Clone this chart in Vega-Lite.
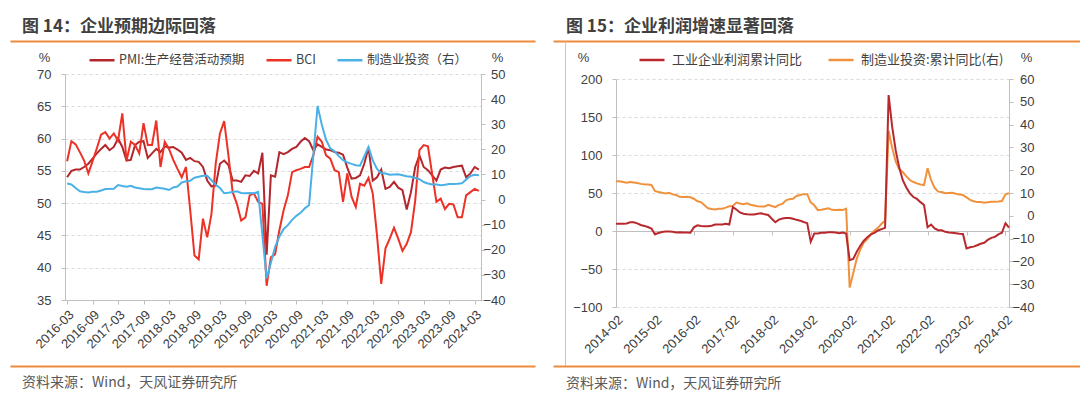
{
  "$schema": "https://vega.github.io/schema/vega-lite/v6.json",
  "background": "white",
  "padding": {"left": 22, "top": 11, "right": 45, "bottom": 0},
  "bounds": "flush",
  "columns": 2,
  "spacing": {"row": 33, "column": 135},
  "resolve": {"scale": {"color": "independent"}, "legend": {"color": "independent"}},
  "config": {
    "view": {"stroke": null},
    "axis": {"labelFont": "Liberation Sans", "labelFontSize": 13, "labelColor": "#404040", "domainColor": "#bfbfbf", "tickColor": "#bfbfbf", "tickSize": 4, "gridColor": "#d9d9d9", "gridDash": [3, 3], "titleFont": "Liberation Sans", "titleFontSize": 13, "titleFontWeight": "normal", "titleColor": "#404040"},
    "legend": {"labelFont": "Noto Sans CJK SC", "labelFontSize": 13, "labelColor": "#404040", "symbolType": "stroke", "symbolSize": 625, "symbolStrokeWidth": 2.5}
  },
  "datasets": {
    "left": [
      {"d": "2016-03", "pmi": 54.0, "bci": 56.5, "inv": 6.4},
      {"d": "2016-04", "pmi": 55.0, "bci": 59.6, "inv": 6.0},
      {"d": "2016-05", "pmi": 55.2, "bci": 59.1, "inv": 4.6},
      {"d": "2016-06", "pmi": 55.2, "bci": 57.9, "inv": 3.3},
      {"d": "2016-07", "pmi": 55.6, "bci": 56.6, "inv": 3.0},
      {"d": "2016-08", "pmi": 56.1, "bci": 54.6, "inv": 2.8},
      {"d": "2016-09", "pmi": 56.9, "bci": 56.5, "inv": 3.1},
      {"d": "2016-10", "pmi": 57.7, "bci": 58.5, "inv": 3.1},
      {"d": "2016-11", "pmi": 58.4, "bci": 60.6, "inv": 3.6},
      {"d": "2016-12", "pmi": 59.0, "bci": 61.0, "inv": 4.2},
      {"d": "2017-01", "pmi": 58.2, "bci": 60.0, "inv": null},
      {"d": "2017-02", "pmi": 58.7, "bci": 60.8, "inv": 4.3},
      {"d": "2017-03", "pmi": 60.0, "bci": 59.7, "inv": 5.8},
      {"d": "2017-04", "pmi": 58.7, "bci": 63.9, "inv": 5.4},
      {"d": "2017-05", "pmi": 56.6, "bci": 56.6, "inv": 5.1},
      {"d": "2017-06", "pmi": 56.7, "bci": 59.5, "inv": 5.5},
      {"d": "2017-07", "pmi": 59.0, "bci": 59.0, "inv": 4.8},
      {"d": "2017-08", "pmi": 59.5, "bci": 57.7, "inv": 4.5},
      {"d": "2017-09", "pmi": 59.6, "bci": 62.4, "inv": 4.2},
      {"d": "2017-10", "pmi": 57.0, "bci": 59.0, "inv": 4.1},
      {"d": "2017-11", "pmi": 57.7, "bci": 59.0, "inv": 4.1},
      {"d": "2017-12", "pmi": 58.4, "bci": 62.8, "inv": 4.8},
      {"d": "2018-01", "pmi": 57.9, "bci": 55.6, "inv": null},
      {"d": "2018-02", "pmi": 58.8, "bci": 59.5, "inv": 4.3},
      {"d": "2018-03", "pmi": 58.6, "bci": 58.4, "inv": 3.8},
      {"d": "2018-04", "pmi": 58.7, "bci": 56.7, "inv": 4.8},
      {"d": "2018-05", "pmi": 58.3, "bci": 55.3, "inv": 5.2},
      {"d": "2018-06", "pmi": 57.8, "bci": 54.0, "inv": 6.8},
      {"d": "2018-07", "pmi": 56.7, "bci": 55.6, "inv": 7.3},
      {"d": "2018-08", "pmi": 57.0, "bci": 48.9, "inv": 7.5},
      {"d": "2018-09", "pmi": 56.5, "bci": 41.9, "inv": 8.7},
      {"d": "2018-10", "pmi": 56.4, "bci": 41.3, "inv": 9.1},
      {"d": "2018-11", "pmi": 55.6, "bci": 47.6, "inv": 9.5},
      {"d": "2018-12", "pmi": 53.5, "bci": 44.7, "inv": 9.5},
      {"d": "2019-01", "pmi": 52.6, "bci": 48.3, "inv": null},
      {"d": "2019-02", "pmi": 52.7, "bci": 56.1, "inv": 5.9},
      {"d": "2019-03", "pmi": 56.1, "bci": 60.8, "inv": 4.6},
      {"d": "2019-04", "pmi": 56.6, "bci": 62.7, "inv": 2.5},
      {"d": "2019-05", "pmi": 55.9, "bci": 57.4, "inv": 2.7},
      {"d": "2019-06", "pmi": 53.5, "bci": 51.7, "inv": 3.0},
      {"d": "2019-07", "pmi": 53.5, "bci": 49.9, "inv": 3.3},
      {"d": "2019-08", "pmi": 53.3, "bci": 47.3, "inv": 2.6},
      {"d": "2019-09", "pmi": 54.3, "bci": 47.8, "inv": 2.5},
      {"d": "2019-10", "pmi": 54.2, "bci": 51.2, "inv": 2.6},
      {"d": "2019-11", "pmi": 55.0, "bci": 51.5, "inv": 2.5},
      {"d": "2019-12", "pmi": 54.6, "bci": 50.2, "inv": 3.1},
      {"d": "2020-01", "pmi": 57.8, "bci": 49.9, "inv": null},
      {"d": "2020-02", "pmi": 42.0, "bci": 37.2, "inv": -31.5},
      {"d": "2020-03", "pmi": 54.3, "bci": 41.6, "inv": -25.2},
      {"d": "2020-04", "pmi": 54.1, "bci": 42.1, "inv": -18.8},
      {"d": "2020-05", "pmi": 57.9, "bci": 45.8, "inv": -14.8},
      {"d": "2020-06", "pmi": 57.6, "bci": 48.9, "inv": -11.7},
      {"d": "2020-07", "pmi": 57.9, "bci": 51.2, "inv": -10.2},
      {"d": "2020-08", "pmi": 58.4, "bci": 54.8, "inv": -8.1},
      {"d": "2020-09", "pmi": 58.7, "bci": 55.1, "inv": -6.5},
      {"d": "2020-10", "pmi": 59.5, "bci": 55.3, "inv": -5.3},
      {"d": "2020-11", "pmi": 60.1, "bci": 55.6, "inv": -3.5},
      {"d": "2020-12", "pmi": 59.6, "bci": 55.6, "inv": -2.2},
      {"d": "2021-01", "pmi": 58.2, "bci": 57.4, "inv": null},
      {"d": "2021-02", "pmi": 59.1, "bci": 60.3, "inv": 37.3},
      {"d": "2021-03", "pmi": 58.7, "bci": 59.5, "inv": 29.8},
      {"d": "2021-04", "pmi": 58.3, "bci": 57.4, "inv": 23.8},
      {"d": "2021-05", "pmi": 58.2, "bci": 56.9, "inv": 20.4},
      {"d": "2021-06", "pmi": 57.9, "bci": 55.1, "inv": 19.2},
      {"d": "2021-07", "pmi": 57.8, "bci": 54.8, "inv": 17.3},
      {"d": "2021-08", "pmi": 57.5, "bci": 50.2, "inv": 15.7},
      {"d": "2021-09", "pmi": 55.5, "bci": 54.6, "inv": 14.8},
      {"d": "2021-10", "pmi": 53.8, "bci": 51.0, "inv": 14.2},
      {"d": "2021-11", "pmi": 53.9, "bci": 49.4, "inv": 13.7},
      {"d": "2021-12", "pmi": 54.3, "bci": 53.0, "inv": 13.5},
      {"d": "2022-01", "pmi": 56.1, "bci": 52.7, "inv": null},
      {"d": "2022-02", "pmi": 58.6, "bci": 53.9, "inv": 20.9},
      {"d": "2022-03", "pmi": 53.5, "bci": 51.5, "inv": 15.6},
      {"d": "2022-04", "pmi": 54.0, "bci": 45.0, "inv": 12.2},
      {"d": "2022-05", "pmi": 55.2, "bci": 37.5, "inv": 10.6},
      {"d": "2022-06", "pmi": 52.2, "bci": 43.0, "inv": 10.4},
      {"d": "2022-07", "pmi": 52.5, "bci": 44.5, "inv": 9.9},
      {"d": "2022-08", "pmi": 53.3, "bci": 46.2, "inv": 10.0},
      {"d": "2022-09", "pmi": 52.4, "bci": 44.5, "inv": 10.1},
      {"d": "2022-10", "pmi": 52.0, "bci": 42.6, "inv": 9.7},
      {"d": "2022-11", "pmi": 49.0, "bci": 43.7, "inv": 9.3},
      {"d": "2022-12", "pmi": 51.7, "bci": 45.5, "inv": 9.1},
      {"d": "2023-01", "pmi": 55.6, "bci": 50.4, "inv": null},
      {"d": "2023-02", "pmi": 57.4, "bci": 58.2, "inv": 8.1},
      {"d": "2023-03", "pmi": 55.6, "bci": 59.0, "inv": 7.0},
      {"d": "2023-04", "pmi": 55.1, "bci": 58.8, "inv": 6.4},
      {"d": "2023-05", "pmi": 54.3, "bci": 54.5, "inv": 6.0},
      {"d": "2023-06", "pmi": 53.5, "bci": 50.2, "inv": 6.0},
      {"d": "2023-07", "pmi": 55.2, "bci": 50.7, "inv": 5.7},
      {"d": "2023-08", "pmi": 55.5, "bci": 49.1, "inv": 5.9},
      {"d": "2023-09", "pmi": 55.4, "bci": 49.9, "inv": 6.2},
      {"d": "2023-10", "pmi": 55.6, "bci": 49.8, "inv": 6.2},
      {"d": "2023-11", "pmi": 55.7, "bci": 47.8, "inv": 6.3},
      {"d": "2023-12", "pmi": 55.8, "bci": 47.8, "inv": 6.5},
      {"d": "2024-01", "pmi": 54.0, "bci": 51.2, "inv": null},
      {"d": "2024-02", "pmi": 54.6, "bci": 51.7, "inv": 9.4},
      {"d": "2024-03", "pmi": 55.6, "bci": 52.2, "inv": 9.9},
      {"d": "2024-04", "pmi": 55.2, "bci": 51.9, "inv": 9.7}
    ],
    "right": [
      {"d": "2014-02", "profit": 9.4, "inv2": 15.1},
      {"d": "2014-03", "profit": 9.6, "inv2": 15.1},
      {"d": "2014-04", "profit": 9.6, "inv2": 14.8},
      {"d": "2014-05", "profit": 9.8, "inv2": 14.5},
      {"d": "2014-06", "profit": 11.4, "inv2": 14.8},
      {"d": "2014-07", "profit": 11.6, "inv2": 14.6},
      {"d": "2014-08", "profit": 10.0, "inv2": 14.4},
      {"d": "2014-09", "profit": 7.9, "inv2": 14.0},
      {"d": "2014-10", "profit": 6.7, "inv2": 13.8},
      {"d": "2014-11", "profit": 5.3, "inv2": 13.7},
      {"d": "2014-12", "profit": 3.3, "inv2": 13.5},
      {"d": "2015-02", "profit": -4.2, "inv2": 10.9},
      {"d": "2015-03", "profit": -2.7, "inv2": 10.4},
      {"d": "2015-04", "profit": -1.3, "inv2": 10.1},
      {"d": "2015-05", "profit": -0.8, "inv2": 9.8},
      {"d": "2015-06", "profit": -0.7, "inv2": 10.1},
      {"d": "2015-07", "profit": -1.0, "inv2": 9.4},
      {"d": "2015-08", "profit": -1.9, "inv2": 9.1},
      {"d": "2015-09", "profit": -1.7, "inv2": 8.3},
      {"d": "2015-10", "profit": -2.0, "inv2": 8.2},
      {"d": "2015-11", "profit": -1.9, "inv2": 8.3},
      {"d": "2015-12", "profit": -2.3, "inv2": 8.1},
      {"d": "2016-02", "profit": 4.8, "inv2": 7.5},
      {"d": "2016-03", "profit": 7.4, "inv2": 6.4},
      {"d": "2016-04", "profit": 6.5, "inv2": 6.0},
      {"d": "2016-05", "profit": 6.4, "inv2": 4.6},
      {"d": "2016-06", "profit": 6.2, "inv2": 3.3},
      {"d": "2016-07", "profit": 6.9, "inv2": 3.0},
      {"d": "2016-08", "profit": 8.4, "inv2": 2.8},
      {"d": "2016-09", "profit": 8.4, "inv2": 3.1},
      {"d": "2016-10", "profit": 8.6, "inv2": 3.1},
      {"d": "2016-11", "profit": 9.4, "inv2": 3.6},
      {"d": "2016-12", "profit": 8.5, "inv2": 4.2},
      {"d": "2017-02", "profit": 31.5, "inv2": 4.3},
      {"d": "2017-03", "profit": 28.3, "inv2": 5.8},
      {"d": "2017-04", "profit": 24.4, "inv2": 5.4},
      {"d": "2017-05", "profit": 22.7, "inv2": 5.1},
      {"d": "2017-06", "profit": 22.0, "inv2": 5.5},
      {"d": "2017-07", "profit": 21.6, "inv2": 4.8},
      {"d": "2017-08", "profit": 21.6, "inv2": 4.5},
      {"d": "2017-09", "profit": 22.8, "inv2": 4.2},
      {"d": "2017-10", "profit": 23.3, "inv2": 4.1},
      {"d": "2017-11", "profit": 21.9, "inv2": 4.1},
      {"d": "2017-12", "profit": 21.0, "inv2": 4.8},
      {"d": "2018-02", "profit": 16.1, "inv2": 4.3},
      {"d": "2018-03", "profit": 11.6, "inv2": 3.8},
      {"d": "2018-04", "profit": 15.0, "inv2": 4.8},
      {"d": "2018-05", "profit": 16.5, "inv2": 5.2},
      {"d": "2018-06", "profit": 17.2, "inv2": 6.8},
      {"d": "2018-07", "profit": 17.1, "inv2": 7.3},
      {"d": "2018-08", "profit": 16.2, "inv2": 7.5},
      {"d": "2018-09", "profit": 14.7, "inv2": 8.7},
      {"d": "2018-10", "profit": 13.6, "inv2": 9.1},
      {"d": "2018-11", "profit": 11.8, "inv2": 9.5},
      {"d": "2018-12", "profit": 10.3, "inv2": 9.5},
      {"d": "2019-02", "profit": -14.0, "inv2": 5.9},
      {"d": "2019-03", "profit": -3.3, "inv2": 4.6},
      {"d": "2019-04", "profit": -3.4, "inv2": 2.5},
      {"d": "2019-05", "profit": -2.3, "inv2": 2.7},
      {"d": "2019-06", "profit": -2.4, "inv2": 3.0},
      {"d": "2019-07", "profit": -1.7, "inv2": 3.3},
      {"d": "2019-08", "profit": -1.7, "inv2": 2.6},
      {"d": "2019-09", "profit": -2.1, "inv2": 2.5},
      {"d": "2019-10", "profit": -2.9, "inv2": 2.6},
      {"d": "2019-11", "profit": -2.1, "inv2": 2.5},
      {"d": "2019-12", "profit": -3.3, "inv2": 3.1},
      {"d": "2020-02", "profit": -38.3, "inv2": -31.5},
      {"d": "2020-03", "profit": -36.7, "inv2": -25.2},
      {"d": "2020-04", "profit": -27.4, "inv2": -18.8},
      {"d": "2020-05", "profit": -19.3, "inv2": -14.8},
      {"d": "2020-06", "profit": -12.8, "inv2": -11.7},
      {"d": "2020-07", "profit": -8.1, "inv2": -10.2},
      {"d": "2020-08", "profit": -4.4, "inv2": -8.1},
      {"d": "2020-09", "profit": -2.4, "inv2": -6.5},
      {"d": "2020-10", "profit": 0.7, "inv2": -5.3},
      {"d": "2020-11", "profit": 2.4, "inv2": -3.5},
      {"d": "2020-12", "profit": 4.1, "inv2": -2.2},
      {"d": "2021-02", "profit": 178.9, "inv2": 37.3},
      {"d": "2021-03", "profit": 137.3, "inv2": 29.8},
      {"d": "2021-04", "profit": 106.0, "inv2": 23.8},
      {"d": "2021-05", "profit": 83.4, "inv2": 20.4},
      {"d": "2021-06", "profit": 66.9, "inv2": 19.2},
      {"d": "2021-07", "profit": 57.3, "inv2": 17.3},
      {"d": "2021-08", "profit": 49.5, "inv2": 15.7},
      {"d": "2021-09", "profit": 44.7, "inv2": 14.8},
      {"d": "2021-10", "profit": 42.2, "inv2": 14.2},
      {"d": "2021-11", "profit": 38.0, "inv2": 13.7},
      {"d": "2021-12", "profit": 34.3, "inv2": 13.5},
      {"d": "2022-02", "profit": 5.0, "inv2": 20.9},
      {"d": "2022-03", "profit": 8.5, "inv2": 15.6},
      {"d": "2022-04", "profit": 3.5, "inv2": 12.2},
      {"d": "2022-05", "profit": 1.0, "inv2": 10.6},
      {"d": "2022-06", "profit": 1.0, "inv2": 10.4},
      {"d": "2022-07", "profit": -1.1, "inv2": 9.9},
      {"d": "2022-08", "profit": -2.1, "inv2": 10.0},
      {"d": "2022-09", "profit": -2.3, "inv2": 10.1},
      {"d": "2022-10", "profit": -3.0, "inv2": 9.7},
      {"d": "2022-11", "profit": -3.6, "inv2": 9.3},
      {"d": "2022-12", "profit": -4.0, "inv2": 9.1},
      {"d": "2023-02", "profit": -22.9, "inv2": 8.1},
      {"d": "2023-03", "profit": -21.4, "inv2": 7.0},
      {"d": "2023-04", "profit": -20.6, "inv2": 6.4},
      {"d": "2023-05", "profit": -18.8, "inv2": 6.0},
      {"d": "2023-06", "profit": -16.8, "inv2": 6.0},
      {"d": "2023-07", "profit": -15.5, "inv2": 5.7},
      {"d": "2023-08", "profit": -11.7, "inv2": 5.9},
      {"d": "2023-09", "profit": -9.0, "inv2": 6.2},
      {"d": "2023-10", "profit": -7.8, "inv2": 6.2},
      {"d": "2023-11", "profit": -4.4, "inv2": 6.3},
      {"d": "2023-12", "profit": -2.3, "inv2": 6.5},
      {"d": "2024-02", "profit": 10.2, "inv2": 9.4},
      {"d": "2024-03", "profit": 4.3, "inv2": 9.9}
    ]
  },
  "concat": [
    {
      "width": 416, "height": 30,
      "data": {"values": [{"t": "图 14：企业预期边际回落", "p": 0}]},
      "mark": {"type": "text", "align": "left", "baseline": "middle", "dx": 12, "dy": 1, "font": "Noto Sans CJK SC", "fontSize": 17, "fontWeight": "bold", "color": "#404040"},
      "encoding": {
        "text": {"field": "t"},
        "x": {"field": "p", "type": "quantitative", "scale": {"domain": [0, 1], "range": [-55, 470], "nice": false, "zero": false}, "axis": {"orient": "bottom", "domainColor": "#ee8a3c", "domainWidth": 2, "labels": false, "ticks": false, "grid": false, "title": null}}
      }
    },
    {
      "width": 393, "height": 30,
      "data": {"values": [{"t": "图 15：企业利润增速显著回落", "p": 0}]},
      "mark": {"type": "text", "align": "left", "baseline": "middle", "dx": 13, "dy": 1, "font": "Noto Sans CJK SC", "fontSize": 17, "fontWeight": "bold", "color": "#404040"},
      "encoding": {
        "text": {"field": "t"},
        "x": {"field": "p", "type": "quantitative", "scale": {"domain": [0, 1], "range": [-63, 464], "nice": false, "zero": false}, "axis": {"orient": "bottom", "domainColor": "#ee8a3c", "domainWidth": 2, "labels": false, "ticks": false, "grid": false, "title": null}}
      }
    },
    {
      "width": 416, "height": 226,
      "data": {"name": "left"},
      "transform": [{"fold": ["pmi", "bci", "inv"], "as": ["s", "v"]}, {"filter": "isValid(datum.v)"}],
      "encoding": {
        "x": {"field": "d", "type": "ordinal", "sort": "ascending", "scale": {"type": "point", "padding": 0.5},
          "axis": {"values": ["2016-03", "2016-09", "2017-03", "2017-09", "2018-03", "2018-09", "2019-03", "2019-09", "2020-03", "2020-09", "2021-03", "2021-09", "2022-03", "2022-09", "2023-03", "2023-09", "2024-03"], "labelAngle": -45, "title": null, "labelPadding": 4}},
        "color": {"field": "s", "type": "nominal",
          "scale": {"domain": ["pmi", "bci", "inv"], "range": ["#b3262b", "#ec3126", "#4ab1e6"]},
          "legend": {"orient": "none", "legendX": 23, "legendY": -28, "direction": "horizontal", "title": null, "columnPadding": 16, "labelOffset": 3, "labelFontSize": 12.5,
            "labelExpr": "datum.label == 'pmi' ? 'PMI:生产经营活动预期' : datum.label == 'bci' ? 'BCI' : '制造业投资（右）'"}}
      },
      "layer": [
        {
          "transform": [{"filter": "datum.s != 'inv'"}],
          "mark": {"type": "line", "strokeWidth": 2},
          "encoding": {
            "y": {"field": "v", "type": "quantitative", "scale": {"domain": [35, 70], "nice": false, "zero": false},
              "axis": {"values": [35, 40, 45, 50, 55, 60, 65, 70], "grid": true, "labelPadding": 10, "title": "%", "titleAngle": 0, "titleX": -21, "titleY": -17, "titleAlign": "center", "titleBaseline": "middle"}}
          }
        },
        {
          "transform": [{"filter": "datum.s == 'inv'"}],
          "mark": {"type": "line", "strokeWidth": 2},
          "encoding": {
            "y": {"field": "v", "type": "quantitative", "scale": {"domain": [-40, 50], "nice": false, "zero": false},
              "axis": {"orient": "right", "values": [-40, -30, -20, -10, 0, 10, 20, 30, 40, 50], "grid": false, "labelAlign": "right", "labelPadding": 20, "title": "%", "titleAngle": 0, "titleX": 16, "titleY": -17, "titleAlign": "center", "titleBaseline": "middle"}}
          }
        }
      ],
      "resolve": {"scale": {"y": "independent"}}
    },
    {
      "width": 393, "height": 233,
      "data": {"name": "right"},
      "transform": [{"fold": ["profit", "inv2"], "as": ["s", "v"]}],
      "encoding": {
        "color": {"field": "s", "type": "nominal",
          "scale": {"domain": ["profit", "inv2"], "range": ["#b8282c", "#f0923d"]},
          "legend": {"orient": "none", "legendX": 22, "legendY": -28, "direction": "horizontal", "title": null, "columnPadding": 20, "labelOffset": 6,
            "labelExpr": "datum.label == 'profit' ? '工业企业利润累计同比' : '制造业投资:累计同比(右)'"}}
      },
      "layer": [
        {
          "transform": [{"filter": "datum.s == 'inv2'"}],
          "mark": {"type": "line", "strokeWidth": 2},
          "encoding": {
            "x": {"field": "d", "type": "ordinal", "sort": "ascending", "scale": {"type": "point", "padding": 0},
              "axis": {"orient": "bottom", "offset": -76, "values": ["2014-02", "2015-02", "2016-02", "2017-02", "2018-02", "2019-02", "2020-02", "2021-02", "2022-02", "2023-02", "2024-02"], "labels": false, "title": null, "grid": false}},
            "y": {"field": "v", "type": "quantitative", "scale": {"domain": [-40, 60], "range": [233, 5], "nice": false, "zero": false},
              "axis": {"orient": "right", "values": [-40, -30, -20, -10, 0, 10, 20, 30, 40, 50, 60], "grid": false, "labelAlign": "right", "labelPadding": 21, "title": "%", "titleAngle": 0, "titleX": 17, "titleY": -17, "titleAlign": "center", "titleBaseline": "middle"}}
          }
        },
        {
          "transform": [{"filter": "datum.s == 'profit'"}],
          "mark": {"type": "line", "strokeWidth": 2},
          "encoding": {
            "x": {"field": "d", "type": "ordinal", "sort": "ascending", "scale": {"type": "point", "padding": 0},
              "axis": {"orient": "bottom", "values": ["2014-02", "2015-02", "2016-02", "2017-02", "2018-02", "2019-02", "2020-02", "2021-02", "2022-02", "2023-02", "2024-02"], "labelAngle": -45, "title": null, "domain": false, "ticks": false, "labelPadding": 6}},
            "y": {"field": "v", "type": "quantitative", "scale": {"domain": [-100, 200], "range": [233, 5], "nice": false, "zero": false},
              "axis": {"orient": "left", "values": [-100, -50, 0, 50, 100, 150, 200], "grid": true, "labelPadding": 10, "title": "%", "titleAngle": 0, "titleX": -33, "titleY": -17, "titleAlign": "center", "titleBaseline": "middle"}}
          }
        },
        {
          "transform": [{"filter": "datum.s == 'inv2'"}],
          "mark": {"type": "point", "opacity": 0},
          "encoding": {
            "color": {"value": "transparent"},
            "y": {"datum": 0, "type": "quantitative", "scale": {"domain": [0, 1], "range": [292, -33], "nice": false, "zero": false},
              "axis": {"orient": "left", "offset": 51, "labels": false, "ticks": false, "grid": false, "title": null, "domainColor": "#c8c8c8"}}
          }
        }
      ],
      "resolve": {"scale": {"y": "independent"}, "axis": {"x": "independent"}}
    },
    {
      "width": 416, "height": 26,
      "data": {"values": [{"t": "资料来源：Wind，天风证券研究所", "p": 0}]},
      "mark": {"type": "text", "align": "left", "baseline": "middle", "dx": 12, "dy": 30, "font": "Noto Sans CJK SC", "fontSize": 14, "color": "#595959"},
      "encoding": {
        "text": {"field": "t"},
        "x": {"field": "p", "type": "quantitative", "scale": {"domain": [0, 1], "range": [-55, 470], "nice": false, "zero": false}, "axis": {"orient": "bottom", "domainColor": "#ee8a3c", "domainWidth": 2, "labels": false, "ticks": false, "grid": false, "title": null}}
      }
    },
    {
      "width": 393, "height": 26,
      "data": {"values": [{"t": "资料来源：Wind，天风证券研究所", "p": 0}]},
      "mark": {"type": "text", "align": "left", "baseline": "middle", "dx": 13, "dy": 31, "font": "Noto Sans CJK SC", "fontSize": 14, "color": "#595959"},
      "encoding": {
        "text": {"field": "t"},
        "x": {"field": "p", "type": "quantitative", "scale": {"domain": [0, 1], "range": [-63, 464], "nice": false, "zero": false}, "axis": {"orient": "bottom", "domainColor": "#ee8a3c", "domainWidth": 2, "labels": false, "ticks": false, "grid": false, "title": null}}
      }
    }
  ]
}
